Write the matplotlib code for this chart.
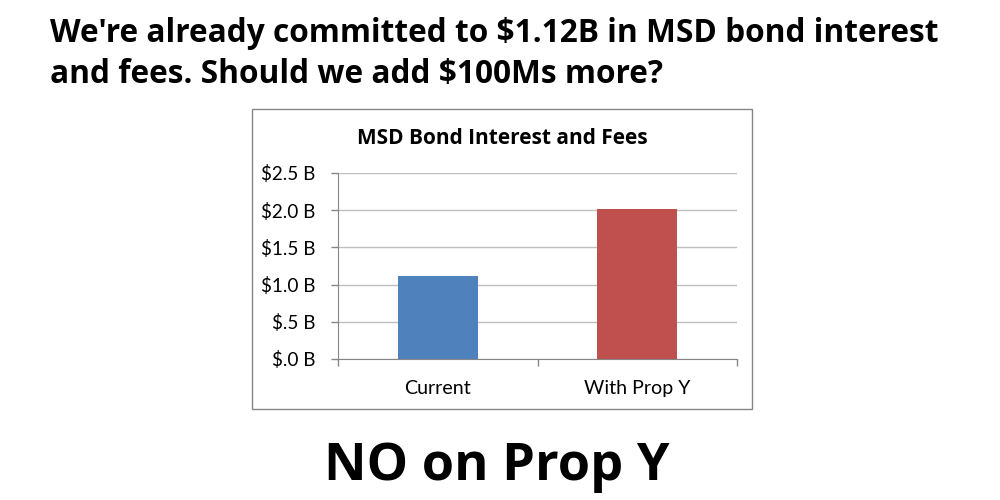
import matplotlib
matplotlib.use("Agg")
import matplotlib.pyplot as plt
from matplotlib.patches import Rectangle
from matplotlib.ticker import FuncFormatter

categories = ["Current", "With Prop Y"]
values = [1.12, 2.02]
bar_colors = ["#4F81BD", "#C0504D"]
yticks = [0.0, 0.5, 1.0, 1.5, 2.0, 2.5]
headline = ["We're already committed to $1.12B in MSD bond interest",
            "and fees. Should we add $100Ms more?"]
chart_title = "MSD Bond Interest and Fees"
slogan = "NO on Prop Y"

FONT = "Lato"
BFONT = "Open Sans"
W, H = 1000, 500
fig = plt.figure(figsize=(10, 5), dpi=100)
fig.patch.set_facecolor("white")

def fx(px):
    return px / W

def fy(py):
    return 1 - py / H

# chart box
fig.patches.append(Rectangle((fx(252), fy(409)), fx(500), 300 / H, transform=fig.transFigure,
                             facecolor="white", edgecolor="#868686", linewidth=1.0, zorder=-5))

ax = fig.add_axes([fx(338), fy(359), fx(399), (359 - 173) / H])
ax.set_zorder(2)
ax.set_facecolor("none")
x = list(range(len(categories)))
ax.bar(x, values, width=0.4, color=bar_colors, zorder=3)
ax.set_xlim(-0.5, 1.5)
ax.set_ylim(0, 2.5)
ax.set_yticks(yticks)
ax.yaxis.set_major_formatter(FuncFormatter(lambda v, p: ("$%.1f B" % v).replace("$0.", "$.")))
ax.set_xticks(x)
ax.set_xticklabels(categories)
ax.set_xticks([-0.5, 0.5, 1.5], minor=True)
ax.tick_params(axis="x", which="major", length=0, pad=15, colors="#000000")
ax.tick_params(axis="x", which="minor", length=5, width=1, color="#868686")
ax.tick_params(axis="y", length=5, width=1, color="#868686", pad=11)
ax.grid(axis="y", color="#BFBFBF", linewidth=1, zorder=0)
for s in ["top", "right"]:
    ax.spines[s].set_visible(False)
for s in ["left", "bottom"]:
    ax.spines[s].set_color("#868686")
    ax.spines[s].set_zorder(4)

for lab in ax.get_xticklabels() + ax.get_yticklabels():
    lab.set_fontfamily(FONT)
    lab.set_fontsize(12)

t_title = fig.text(fx(502), fy(144), chart_title, ha="center", va="baseline",
                   fontsize=13, fontweight="bold", family=BFONT)
h1 = fig.text(fx(50), fy(42), headline[0], ha="left", va="baseline",
              fontsize=22, fontweight="bold", family=BFONT)
h2 = fig.text(fx(50), fy(83), headline[1], ha="left", va="baseline",
              fontsize=22, fontweight="bold", family=BFONT)
t_slogan = fig.text(fx(497), fy(480), slogan, ha="center", va="baseline",
                    fontsize=44, fontweight="bold", family=BFONT)

fig.canvas.draw()
r = fig.canvas.get_renderer()

def fit(t, target):
    w = t.get_window_extent(r).width
    t.set_fontsize(t.get_fontsize() * target / w)

fit(t_title, 290)
fit(h1, 885)
h2.set_fontsize(h1.get_fontsize())
fit(t_slogan, 345)

# tick label sizes
yl = ax.get_yticklabels()
w = yl[-1].get_window_extent(r).width
ys = 12 * 54 / w
for lab in yl:
    lab.set_fontsize(ys)
xl = ax.get_xticklabels()
w = xl[1].get_window_extent(r).width
xs = 12 * 106 / w
for lab in xl:
    lab.set_fontsize(xs)

fig.savefig("out.png", dpi=100, facecolor="white")
